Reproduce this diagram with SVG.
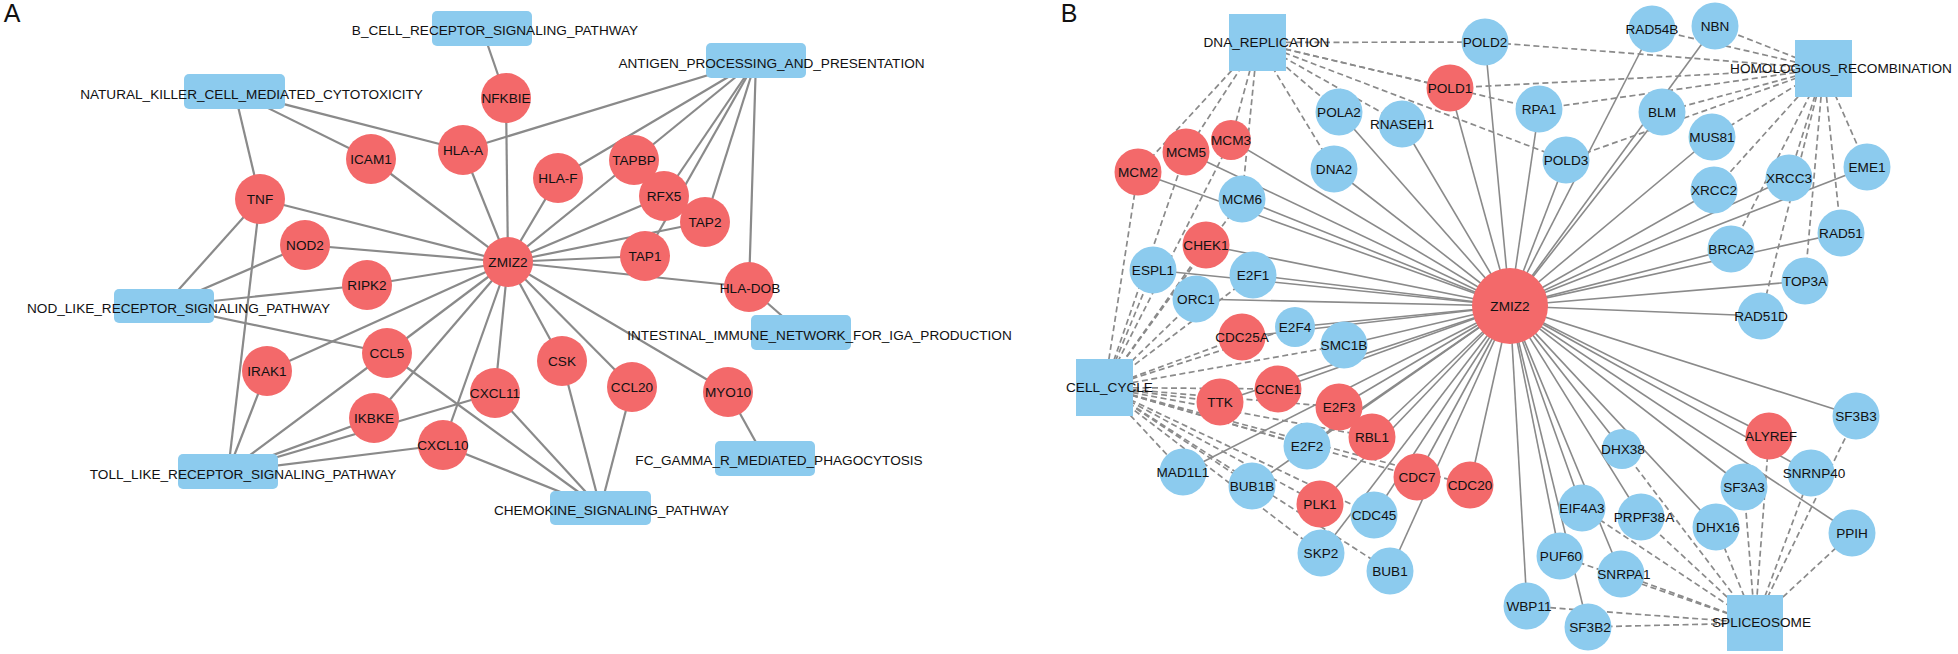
<svg xmlns="http://www.w3.org/2000/svg" width="1958" height="654" viewBox="0 0 1958 654">
<style>
.ea{stroke:#8a8a8a;stroke-width:2.2}
.eb{stroke:#8a8a8a;stroke-width:1.6}
.ed{stroke:#8a8a8a;stroke-width:1.7;stroke-dasharray:6 3.5}
.r{fill:#F3696A}
.b{fill:#8CCBEE}
text{font-family:"Liberation Sans",Arial,sans-serif;font-size:13.6px;fill:#111;text-anchor:middle}
.pl{font-size:25px}
</style>
<rect width="1958" height="654" fill="#fff"/>
<text class="pl" x="12" y="22">A</text>
<text class="pl" x="1069" y="22">B</text>
<g id="connectors">
<g id="edges-A">
<line class="ea" x1="508" y1="262" x2="506" y2="98"/>
<line class="ea" x1="508" y1="262" x2="463" y2="150"/>
<line class="ea" x1="508" y1="262" x2="371" y2="159"/>
<line class="ea" x1="508" y1="262" x2="260" y2="199"/>
<line class="ea" x1="508" y1="262" x2="305" y2="245"/>
<line class="ea" x1="508" y1="262" x2="367" y2="285"/>
<line class="ea" x1="508" y1="262" x2="558" y2="178"/>
<line class="ea" x1="508" y1="262" x2="634" y2="160"/>
<line class="ea" x1="508" y1="262" x2="664" y2="196"/>
<line class="ea" x1="508" y1="262" x2="705" y2="222"/>
<line class="ea" x1="508" y1="262" x2="645" y2="256"/>
<line class="ea" x1="508" y1="262" x2="749" y2="287"/>
<line class="ea" x1="508" y1="262" x2="267" y2="371"/>
<line class="ea" x1="508" y1="262" x2="387" y2="353"/>
<line class="ea" x1="508" y1="262" x2="374" y2="418"/>
<line class="ea" x1="508" y1="262" x2="443" y2="445"/>
<line class="ea" x1="508" y1="262" x2="495" y2="393"/>
<line class="ea" x1="508" y1="262" x2="562" y2="361"/>
<line class="ea" x1="508" y1="262" x2="632" y2="387"/>
<line class="ea" x1="508" y1="262" x2="728" y2="392"/>
<line class="ea" x1="482" y1="28.5" x2="506" y2="98"/>
<line class="ea" x1="234.5" y1="91.5" x2="260" y2="199"/>
<line class="ea" x1="234.5" y1="91.5" x2="371" y2="159"/>
<line class="ea" x1="234.5" y1="91.5" x2="463" y2="150"/>
<line class="ea" x1="756" y1="60.5" x2="463" y2="150"/>
<line class="ea" x1="756" y1="60.5" x2="558" y2="178"/>
<line class="ea" x1="756" y1="60.5" x2="634" y2="160"/>
<line class="ea" x1="756" y1="60.5" x2="664" y2="196"/>
<line class="ea" x1="756" y1="60.5" x2="645" y2="256"/>
<line class="ea" x1="756" y1="60.5" x2="705" y2="222"/>
<line class="ea" x1="756" y1="60.5" x2="749" y2="287"/>
<line class="ea" x1="801" y1="332.5" x2="749" y2="287"/>
<line class="ea" x1="765" y1="458.5" x2="728" y2="392"/>
<line class="ea" x1="164" y1="306" x2="260" y2="199"/>
<line class="ea" x1="164" y1="306" x2="305" y2="245"/>
<line class="ea" x1="164" y1="306" x2="367" y2="285"/>
<line class="ea" x1="164" y1="306" x2="387" y2="353"/>
<line class="ea" x1="228" y1="471.5" x2="260" y2="199"/>
<line class="ea" x1="228" y1="471.5" x2="267" y2="371"/>
<line class="ea" x1="228" y1="471.5" x2="387" y2="353"/>
<line class="ea" x1="228" y1="471.5" x2="374" y2="418"/>
<line class="ea" x1="228" y1="471.5" x2="495" y2="393"/>
<line class="ea" x1="228" y1="471.5" x2="443" y2="445"/>
<line class="ea" x1="600.5" y1="508" x2="387" y2="353"/>
<line class="ea" x1="600.5" y1="508" x2="443" y2="445"/>
<line class="ea" x1="600.5" y1="508" x2="495" y2="393"/>
<line class="ea" x1="600.5" y1="508" x2="562" y2="361"/>
<line class="ea" x1="600.5" y1="508" x2="632" y2="387"/>
</g>
<g id="edges-B-solid">
<line class="eb" x1="1510" y1="306" x2="1339" y2="112"/>
<line class="eb" x1="1510" y1="306" x2="1402" y2="124"/>
<line class="eb" x1="1510" y1="306" x2="1450" y2="88"/>
<line class="eb" x1="1510" y1="306" x2="1231" y2="140"/>
<line class="eb" x1="1510" y1="306" x2="1186" y2="152"/>
<line class="eb" x1="1510" y1="306" x2="1138" y2="172"/>
<line class="eb" x1="1510" y1="306" x2="1242" y2="199"/>
<line class="eb" x1="1510" y1="306" x2="1334" y2="169"/>
<line class="eb" x1="1510" y1="306" x2="1206" y2="245"/>
<line class="eb" x1="1510" y1="306" x2="1153" y2="270"/>
<line class="eb" x1="1510" y1="306" x2="1253" y2="275"/>
<line class="eb" x1="1510" y1="306" x2="1196" y2="299"/>
<line class="eb" x1="1510" y1="306" x2="1295" y2="327"/>
<line class="eb" x1="1510" y1="306" x2="1242" y2="337"/>
<line class="eb" x1="1510" y1="306" x2="1344" y2="345"/>
<line class="eb" x1="1510" y1="306" x2="1220" y2="402"/>
<line class="eb" x1="1510" y1="306" x2="1278" y2="389"/>
<line class="eb" x1="1510" y1="306" x2="1339" y2="407"/>
<line class="eb" x1="1510" y1="306" x2="1372" y2="437"/>
<line class="eb" x1="1510" y1="306" x2="1307" y2="446"/>
<line class="eb" x1="1510" y1="306" x2="1183" y2="472"/>
<line class="eb" x1="1510" y1="306" x2="1252" y2="486"/>
<line class="eb" x1="1510" y1="306" x2="1320" y2="504"/>
<line class="eb" x1="1510" y1="306" x2="1374" y2="515"/>
<line class="eb" x1="1510" y1="306" x2="1417" y2="477"/>
<line class="eb" x1="1510" y1="306" x2="1321" y2="553"/>
<line class="eb" x1="1510" y1="306" x2="1390" y2="571"/>
<line class="eb" x1="1510" y1="306" x2="1470" y2="485"/>
<line class="eb" x1="1510" y1="306" x2="1485" y2="42"/>
<line class="eb" x1="1510" y1="306" x2="1652" y2="29"/>
<line class="eb" x1="1510" y1="306" x2="1715" y2="26"/>
<line class="eb" x1="1510" y1="306" x2="1539" y2="109"/>
<line class="eb" x1="1510" y1="306" x2="1662" y2="112"/>
<line class="eb" x1="1510" y1="306" x2="1566" y2="160"/>
<line class="eb" x1="1510" y1="306" x2="1712" y2="137"/>
<line class="eb" x1="1510" y1="306" x2="1714" y2="190"/>
<line class="eb" x1="1510" y1="306" x2="1789" y2="178"/>
<line class="eb" x1="1510" y1="306" x2="1867" y2="167"/>
<line class="eb" x1="1510" y1="306" x2="1841" y2="233"/>
<line class="eb" x1="1510" y1="306" x2="1731" y2="249"/>
<line class="eb" x1="1510" y1="306" x2="1805" y2="281"/>
<line class="eb" x1="1510" y1="306" x2="1761" y2="316"/>
<line class="eb" x1="1510" y1="306" x2="1856" y2="416"/>
<line class="eb" x1="1510" y1="306" x2="1769" y2="436"/>
<line class="eb" x1="1510" y1="306" x2="1811" y2="473"/>
<line class="eb" x1="1510" y1="306" x2="1622" y2="449"/>
<line class="eb" x1="1510" y1="306" x2="1744" y2="487"/>
<line class="eb" x1="1510" y1="306" x2="1582" y2="508"/>
<line class="eb" x1="1510" y1="306" x2="1641" y2="517"/>
<line class="eb" x1="1510" y1="306" x2="1716" y2="527"/>
<line class="eb" x1="1510" y1="306" x2="1852" y2="533"/>
<line class="eb" x1="1510" y1="306" x2="1560" y2="556"/>
<line class="eb" x1="1510" y1="306" x2="1621" y2="574"/>
<line class="eb" x1="1510" y1="306" x2="1527" y2="606"/>
<line class="eb" x1="1510" y1="306" x2="1588" y2="627"/>
</g>
<g id="edges-B-dashed">
<line class="ed" x1="1257.5" y1="42.5" x2="1138" y2="172"/>
<line class="ed" x1="1257.5" y1="42.5" x2="1186" y2="152"/>
<line class="ed" x1="1257.5" y1="42.5" x2="1231" y2="140"/>
<line class="ed" x1="1257.5" y1="42.5" x2="1242" y2="199"/>
<line class="ed" x1="1257.5" y1="42.5" x2="1334" y2="169"/>
<line class="ed" x1="1257.5" y1="42.5" x2="1339" y2="112"/>
<line class="ed" x1="1257.5" y1="42.5" x2="1402" y2="124"/>
<line class="ed" x1="1257.5" y1="42.5" x2="1450" y2="88"/>
<line class="ed" x1="1257.5" y1="42.5" x2="1485" y2="42"/>
<line class="ed" x1="1257.5" y1="42.5" x2="1566" y2="160"/>
<line class="ed" x1="1257.5" y1="42.5" x2="1539" y2="109"/>
<line class="ed" x1="1823.5" y1="68.5" x2="1485" y2="42"/>
<line class="ed" x1="1823.5" y1="68.5" x2="1652" y2="29"/>
<line class="ed" x1="1823.5" y1="68.5" x2="1715" y2="26"/>
<line class="ed" x1="1823.5" y1="68.5" x2="1450" y2="88"/>
<line class="ed" x1="1823.5" y1="68.5" x2="1539" y2="109"/>
<line class="ed" x1="1823.5" y1="68.5" x2="1662" y2="112"/>
<line class="ed" x1="1823.5" y1="68.5" x2="1566" y2="160"/>
<line class="ed" x1="1823.5" y1="68.5" x2="1712" y2="137"/>
<line class="ed" x1="1823.5" y1="68.5" x2="1714" y2="190"/>
<line class="ed" x1="1823.5" y1="68.5" x2="1789" y2="178"/>
<line class="ed" x1="1823.5" y1="68.5" x2="1731" y2="249"/>
<line class="ed" x1="1823.5" y1="68.5" x2="1761" y2="316"/>
<line class="ed" x1="1823.5" y1="68.5" x2="1805" y2="281"/>
<line class="ed" x1="1823.5" y1="68.5" x2="1841" y2="233"/>
<line class="ed" x1="1823.5" y1="68.5" x2="1867" y2="167"/>
<line class="ed" x1="1104.5" y1="387.5" x2="1138" y2="172"/>
<line class="ed" x1="1104.5" y1="387.5" x2="1186" y2="152"/>
<line class="ed" x1="1104.5" y1="387.5" x2="1231" y2="140"/>
<line class="ed" x1="1104.5" y1="387.5" x2="1242" y2="199"/>
<line class="ed" x1="1104.5" y1="387.5" x2="1206" y2="245"/>
<line class="ed" x1="1104.5" y1="387.5" x2="1153" y2="270"/>
<line class="ed" x1="1104.5" y1="387.5" x2="1253" y2="275"/>
<line class="ed" x1="1104.5" y1="387.5" x2="1196" y2="299"/>
<line class="ed" x1="1104.5" y1="387.5" x2="1295" y2="327"/>
<line class="ed" x1="1104.5" y1="387.5" x2="1242" y2="337"/>
<line class="ed" x1="1104.5" y1="387.5" x2="1344" y2="345"/>
<line class="ed" x1="1104.5" y1="387.5" x2="1220" y2="402"/>
<line class="ed" x1="1104.5" y1="387.5" x2="1278" y2="389"/>
<line class="ed" x1="1104.5" y1="387.5" x2="1339" y2="407"/>
<line class="ed" x1="1104.5" y1="387.5" x2="1372" y2="437"/>
<line class="ed" x1="1104.5" y1="387.5" x2="1307" y2="446"/>
<line class="ed" x1="1104.5" y1="387.5" x2="1183" y2="472"/>
<line class="ed" x1="1104.5" y1="387.5" x2="1252" y2="486"/>
<line class="ed" x1="1104.5" y1="387.5" x2="1320" y2="504"/>
<line class="ed" x1="1104.5" y1="387.5" x2="1374" y2="515"/>
<line class="ed" x1="1104.5" y1="387.5" x2="1321" y2="553"/>
<line class="ed" x1="1104.5" y1="387.5" x2="1390" y2="571"/>
<line class="ed" x1="1104.5" y1="387.5" x2="1417" y2="477"/>
<line class="ed" x1="1104.5" y1="387.5" x2="1470" y2="485"/>
<line class="ed" x1="1755" y1="623" x2="1622" y2="449"/>
<line class="ed" x1="1755" y1="623" x2="1744" y2="487"/>
<line class="ed" x1="1755" y1="623" x2="1811" y2="473"/>
<line class="ed" x1="1755" y1="623" x2="1856" y2="416"/>
<line class="ed" x1="1755" y1="623" x2="1769" y2="436"/>
<line class="ed" x1="1755" y1="623" x2="1852" y2="533"/>
<line class="ed" x1="1755" y1="623" x2="1716" y2="527"/>
<line class="ed" x1="1755" y1="623" x2="1641" y2="517"/>
<line class="ed" x1="1755" y1="623" x2="1582" y2="508"/>
<line class="ed" x1="1755" y1="623" x2="1621" y2="574"/>
<line class="ed" x1="1755" y1="623" x2="1560" y2="556"/>
<line class="ed" x1="1755" y1="623" x2="1527" y2="606"/>
<line class="ed" x1="1755" y1="623" x2="1588" y2="627"/>
</g>
</g>
<g id="nodes-A">
<g id="A-B_CELL"><rect class="b" x="432" y="11" width="100" height="35" rx="5"/><text x="495" y="35">B_CELL_RECEPTOR_SIGNALING_PATHWAY</text></g>
<g id="A-NK"><rect class="b" x="184" y="74" width="101" height="35" rx="5"/><text x="251.5" y="99">NATURAL_KILLER_CELL_MEDIATED_CYTOTOXICITY</text></g>
<g id="A-NOD_LIKE"><rect class="b" x="114" y="289" width="100" height="34" rx="5"/><text x="178.5" y="313">NOD_LIKE_RECEPTOR_SIGNALING_PATHWAY</text></g>
<g id="A-TOLL"><rect class="b" x="178" y="454" width="100" height="35" rx="5"/><text x="243" y="479">TOLL_LIKE_RECEPTOR_SIGNALING_PATHWAY</text></g>
<g id="A-CHEMOKINE"><rect class="b" x="550" y="491" width="101" height="34" rx="5"/><text x="611.5" y="515">CHEMOKINE_SIGNALING_PATHWAY</text></g>
<g id="A-FC_GAMMA"><rect class="b" x="715" y="441" width="100" height="35" rx="5"/><text x="779" y="465">FC_GAMMA_R_MEDIATED_PHAGOCYTOSIS</text></g>
<g id="A-INTESTINAL"><rect class="b" x="751" y="315" width="100" height="35" rx="5"/><text x="819.5" y="340">INTESTINAL_IMMUNE_NETWORK_FOR_IGA_PRODUCTION</text></g>
<g id="A-ANTIGEN"><rect class="b" x="706" y="43" width="100" height="35" rx="5"/><text x="771.5" y="68">ANTIGEN_PROCESSING_AND_PRESENTATION</text></g>
<g id="A-NFKBIE"><circle class="r" cx="506" cy="98" r="25"/><text x="506" y="103">NFKBIE</text></g>
<g id="A-HLA-A"><circle class="r" cx="463" cy="150" r="25"/><text x="463" y="155">HLA-A</text></g>
<g id="A-ICAM1"><circle class="r" cx="371" cy="159" r="25"/><text x="371" y="164">ICAM1</text></g>
<g id="A-TNF"><circle class="r" cx="260" cy="199" r="25"/><text x="260" y="204">TNF</text></g>
<g id="A-NOD2"><circle class="r" cx="305" cy="245" r="25"/><text x="305" y="250">NOD2</text></g>
<g id="A-RIPK2"><circle class="r" cx="367" cy="285" r="25"/><text x="367" y="290">RIPK2</text></g>
<g id="A-HLA-F"><circle class="r" cx="558" cy="178" r="25"/><text x="558" y="183">HLA-F</text></g>
<g id="A-TAPBP"><circle class="r" cx="634" cy="160" r="25"/><text x="634" y="165">TAPBP</text></g>
<g id="A-RFX5"><circle class="r" cx="664" cy="196" r="25"/><text x="664" y="201">RFX5</text></g>
<g id="A-TAP2"><circle class="r" cx="705" cy="222" r="25"/><text x="705" y="227">TAP2</text></g>
<g id="A-TAP1"><circle class="r" cx="645" cy="256" r="25"/><text x="645" y="261">TAP1</text></g>
<g id="A-ZMIZ2"><circle class="r" cx="508" cy="262" r="25"/><text x="508" y="267">ZMIZ2</text></g>
<g id="A-HLA-DOB"><circle class="r" cx="749" cy="287" r="25"/><text x="750" y="293">HLA-DOB</text></g>
<g id="A-IRAK1"><circle class="r" cx="267" cy="371" r="25"/><text x="267" y="376">IRAK1</text></g>
<g id="A-CCL5"><circle class="r" cx="387" cy="353" r="25"/><text x="387" y="358">CCL5</text></g>
<g id="A-IKBKE"><circle class="r" cx="374" cy="418" r="25"/><text x="374" y="423">IKBKE</text></g>
<g id="A-CXCL10"><circle class="r" cx="443" cy="445" r="25"/><text x="443" y="450">CXCL10</text></g>
<g id="A-CXCL11"><circle class="r" cx="495" cy="393" r="25"/><text x="495" y="398">CXCL11</text></g>
<g id="A-CSK"><circle class="r" cx="562" cy="361" r="25"/><text x="562" y="366">CSK</text></g>
<g id="A-CCL20"><circle class="r" cx="632" cy="387" r="25"/><text x="632" y="392">CCL20</text></g>
<g id="A-MYO10"><circle class="r" cx="728" cy="392" r="25"/><text x="728" y="397">MYO10</text></g>
</g>
<g id="nodes-B">
<g id="B-DNA_REPLICATION"><rect class="b" x="1229" y="14" width="57" height="57"/><text x="1266.5" y="47">DNA_REPLICATION</text></g>
<g id="B-HOMOLOGOUS_RECOMBINATION"><rect class="b" x="1795" y="40" width="57" height="57"/><text x="1841" y="73">HOMOLOGOUS_RECOMBINATION</text></g>
<g id="B-CELL_CYCLE"><rect class="b" x="1076" y="359" width="57" height="57"/><text x="1109.5" y="392">CELL_CYCLE</text></g>
<g id="B-SPLICEOSOME"><rect class="b" x="1727" y="595" width="56" height="56"/><text x="1761.5" y="627">SPLICEOSOME</text></g>
<g id="B-POLA2"><circle class="b" cx="1339" cy="112" r="23.5"/><text x="1339" y="117">POLA2</text></g>
<g id="B-RNASEH1"><circle class="b" cx="1402" cy="124" r="23.5"/><text x="1402" y="129">RNASEH1</text></g>
<g id="B-POLD1"><circle class="r" cx="1450" cy="88" r="23.5"/><text x="1450" y="93">POLD1</text></g>
<g id="B-MCM3"><circle class="r" cx="1231" cy="140" r="20"/><text x="1231" y="145">MCM3</text></g>
<g id="B-MCM5"><circle class="r" cx="1186" cy="152" r="23.5"/><text x="1186" y="157">MCM5</text></g>
<g id="B-MCM2"><circle class="r" cx="1138" cy="172" r="23.5"/><text x="1138" y="177">MCM2</text></g>
<g id="B-MCM6"><circle class="b" cx="1242" cy="199" r="23.5"/><text x="1242" y="204">MCM6</text></g>
<g id="B-DNA2"><circle class="b" cx="1334" cy="169" r="23.5"/><text x="1334" y="174">DNA2</text></g>
<g id="B-CHEK1"><circle class="r" cx="1206" cy="245" r="23.5"/><text x="1206" y="250">CHEK1</text></g>
<g id="B-ESPL1"><circle class="b" cx="1153" cy="270" r="23.5"/><text x="1153" y="275">ESPL1</text></g>
<g id="B-E2F1"><circle class="b" cx="1253" cy="275" r="23.5"/><text x="1253" y="280">E2F1</text></g>
<g id="B-ORC1"><circle class="b" cx="1196" cy="299" r="23.5"/><text x="1196" y="304">ORC1</text></g>
<g id="B-E2F4"><circle class="b" cx="1295" cy="327" r="20"/><text x="1295" y="332">E2F4</text></g>
<g id="B-CDC25A"><circle class="r" cx="1242" cy="337" r="23.5"/><text x="1242" y="342">CDC25A</text></g>
<g id="B-SMC1B"><circle class="b" cx="1344" cy="345" r="23.5"/><text x="1344" y="350">SMC1B</text></g>
<g id="B-TTK"><circle class="r" cx="1220" cy="402" r="23.5"/><text x="1220" y="407">TTK</text></g>
<g id="B-CCNE1"><circle class="r" cx="1278" cy="389" r="23.5"/><text x="1278" y="394">CCNE1</text></g>
<g id="B-E2F3"><circle class="r" cx="1339" cy="407" r="23.5"/><text x="1339" y="412">E2F3</text></g>
<g id="B-RBL1"><circle class="r" cx="1372" cy="437" r="23.5"/><text x="1372" y="442">RBL1</text></g>
<g id="B-E2F2"><circle class="b" cx="1307" cy="446" r="23.5"/><text x="1307" y="451">E2F2</text></g>
<g id="B-MAD1L1"><circle class="b" cx="1183" cy="472" r="23.5"/><text x="1183" y="477">MAD1L1</text></g>
<g id="B-BUB1B"><circle class="b" cx="1252" cy="486" r="23.5"/><text x="1252" y="491">BUB1B</text></g>
<g id="B-PLK1"><circle class="r" cx="1320" cy="504" r="23.5"/><text x="1320" y="509">PLK1</text></g>
<g id="B-CDC45"><circle class="b" cx="1374" cy="515" r="23.5"/><text x="1374" y="520">CDC45</text></g>
<g id="B-CDC7"><circle class="r" cx="1417" cy="477" r="23.5"/><text x="1417" y="482">CDC7</text></g>
<g id="B-SKP2"><circle class="b" cx="1321" cy="553" r="23.5"/><text x="1321" y="558">SKP2</text></g>
<g id="B-BUB1"><circle class="b" cx="1390" cy="571" r="23.5"/><text x="1390" y="576">BUB1</text></g>
<g id="B-CDC20"><circle class="r" cx="1470" cy="485" r="23.5"/><text x="1470" y="490">CDC20</text></g>
<g id="B-POLD2"><circle class="b" cx="1485" cy="42" r="23.5"/><text x="1485" y="47">POLD2</text></g>
<g id="B-RAD54B"><circle class="b" cx="1652" cy="29" r="23.5"/><text x="1652" y="34">RAD54B</text></g>
<g id="B-NBN"><circle class="b" cx="1715" cy="26" r="23.5"/><text x="1715" y="31">NBN</text></g>
<g id="B-RPA1"><circle class="b" cx="1539" cy="109" r="23.5"/><text x="1539" y="114">RPA1</text></g>
<g id="B-BLM"><circle class="b" cx="1662" cy="112" r="23.5"/><text x="1662" y="117">BLM</text></g>
<g id="B-POLD3"><circle class="b" cx="1566" cy="160" r="23.5"/><text x="1566" y="165">POLD3</text></g>
<g id="B-MUS81"><circle class="b" cx="1712" cy="137" r="23.5"/><text x="1712" y="142">MUS81</text></g>
<g id="B-XRCC2"><circle class="b" cx="1714" cy="190" r="23.5"/><text x="1714" y="195">XRCC2</text></g>
<g id="B-XRCC3"><circle class="b" cx="1789" cy="178" r="23.5"/><text x="1789" y="183">XRCC3</text></g>
<g id="B-EME1"><circle class="b" cx="1867" cy="167" r="23.5"/><text x="1867" y="172">EME1</text></g>
<g id="B-RAD51"><circle class="b" cx="1841" cy="233" r="23.5"/><text x="1841" y="238">RAD51</text></g>
<g id="B-BRCA2"><circle class="b" cx="1731" cy="249" r="23.5"/><text x="1731" y="254">BRCA2</text></g>
<g id="B-TOP3A"><circle class="b" cx="1805" cy="281" r="23.5"/><text x="1805" y="286">TOP3A</text></g>
<g id="B-RAD51D"><circle class="b" cx="1761" cy="316" r="23.5"/><text x="1761" y="321">RAD51D</text></g>
<g id="B-ZMIZ2"><circle class="r" cx="1510" cy="306" r="38"/><text x="1510" y="311">ZMIZ2</text></g>
<g id="B-SF3B3"><circle class="b" cx="1856" cy="416" r="23.5"/><text x="1856" y="421">SF3B3</text></g>
<g id="B-ALYREF"><circle class="r" cx="1769" cy="436" r="23.5"/><text x="1771" y="441">ALYREF</text></g>
<g id="B-SNRNP40"><circle class="b" cx="1811" cy="473" r="23.5"/><text x="1814" y="478">SNRNP40</text></g>
<g id="B-DHX38"><circle class="b" cx="1622" cy="449" r="20"/><text x="1623" y="454">DHX38</text></g>
<g id="B-SF3A3"><circle class="b" cx="1744" cy="487" r="23.5"/><text x="1744" y="492">SF3A3</text></g>
<g id="B-EIF4A3"><circle class="b" cx="1582" cy="508" r="23.5"/><text x="1582" y="513">EIF4A3</text></g>
<g id="B-PRPF38A"><circle class="b" cx="1641" cy="517" r="23.5"/><text x="1644" y="522">PRPF38A</text></g>
<g id="B-DHX16"><circle class="b" cx="1716" cy="527" r="23.5"/><text x="1718" y="532">DHX16</text></g>
<g id="B-PPIH"><circle class="b" cx="1852" cy="533" r="23.5"/><text x="1852" y="538">PPIH</text></g>
<g id="B-PUF60"><circle class="b" cx="1560" cy="556" r="23.5"/><text x="1561" y="561">PUF60</text></g>
<g id="B-SNRPA1"><circle class="b" cx="1621" cy="574" r="23.5"/><text x="1624" y="579">SNRPA1</text></g>
<g id="B-WBP11"><circle class="b" cx="1527" cy="606" r="23.5"/><text x="1529" y="611">WBP11</text></g>
<g id="B-SF3B2"><circle class="b" cx="1588" cy="627" r="23.5"/><text x="1590" y="632">SF3B2</text></g>
</g>
</svg>
